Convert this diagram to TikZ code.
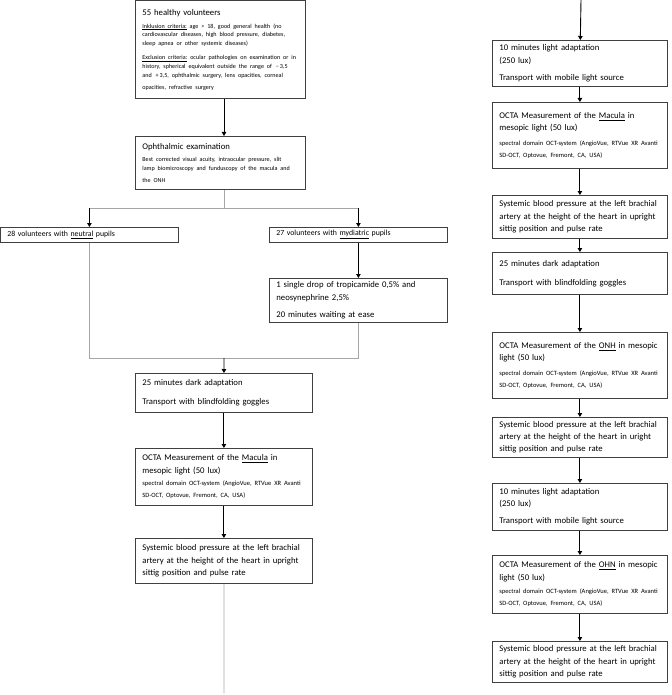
\documentclass[tikz,border=0pt]{standalone}
\usepackage{fontspec}
\setmainfont{Carlito}
\usetikzlibrary{arrows.meta}
\definecolor{boxline}{HTML}{404040}
\definecolor{linkgray}{HTML}{A6A6A6}
\newcommand{\mainsize}{\fontsize{8.7}{12.3}\selectfont}
\newcommand{\pupilsize}{\fontsize{7.8}{10}\selectfont}
\newcommand{\smallsize}{\fontsize{6.5}{9.5}\selectfont}
\newcommand{\tinysize}{\fontsize{6.1}{8.8}\selectfont}
\begin{document}
\begin{tikzpicture}[x=1pt,y=1pt,
	box/.style={draw=boxline, line width=0.8pt, anchor=north west, align=left, inner xsep=7pt, inner ysep=2pt, font=\mainsize},
	link/.style={draw=linkgray, line width=0.8pt},
	arr/.style={draw=black, line width=0.9pt, -{Triangle[length=4pt,width=4.5pt]}}]
	\useasboundingbox (0,0) rectangle (671,-695);
	% left column
	\node[box, text width=156, minimum height=98] (vol) at (135,-0.5) {55 healthy volunteers\\[4pt]
		{\tinysize\underline{Inklusion criteria:} age > 18, good general health (no\\ cardiovascular diseases, high blood pressure, diabetes,\\ sleep apnea or other systemic diseases)\\[5pt]
		\underline{Exclusion criteria:} ocular pathologies on examination or in\\ history, spherical equivalent outside the range of \,−\,3,5\\ and \,+\,3,5, ophthalmic surgery, lens opacities, corneal\\ opacities, refractive surgery}};
	\node[box, text width=156, minimum height=53] (oph) at (135,-136) {Ophthalmic examination\\[3pt]
		{\tinysize Best corrected visual acuity, intraocular pressure, slit\\ lamp biomicroscopy and funduscopy of the macula and\\ the ONH}};
	\node[box, text width=164, minimum height=15, font=\pupilsize] (neu) at (0,-227) {28 volunteers with \underline{neutral} pupils};
	\node[box, text width=164, minimum height=15, font=\pupilsize] (myd) at (269,-227) {27 volunteers with \underline{mydiatric} pupils};
	\node[box, text width=164, minimum height=44] (drop) at (269,-278) {1 single drop of tropicamide 0,5\% and\\ neosynephrine 2,5\%\\[5pt] 20 minutes waiting at ease};
	\node[box, text width=163, minimum height=39] (darkL) at (135,-373) {25 minutes dark adaptation\\[7pt] Transport with blindfolding goggles};
	\node[box, text width=163, minimum height=57] (macL) at (135,-448) {OCTA Measurement of the \underline{Macula} in\\ mesopic light (50 lux)\\[3pt]
		{\smallsize spectral domain OCT-system (AngioVue, RTVue XR Avanti\\ SD-OCT, Optovue, Fremont, CA, USA)}};
	\node[box, text width=163, minimum height=45] (bpL) at (135,-538) {Systemic blood pressure at the left brachial\\ artery at the height of the heart in upright\\ sittig position and pulse rate};
	% right column
	\node[box, text width=161, minimum height=46] (lightA) at (492,-40) {10 minutes light adaptation\\ (250 lux)\\[5pt] Transport with mobile light source};
	\node[box, text width=161, minimum height=66] (macR) at (492,-102) {OCTA Measurement of the \underline{Macula} in\\ mesopic light (50 lux)\\[5pt]
		{\smallsize spectral domain OCT-system (AngioVue, RTVue XR Avanti\\ SD-OCT, Optovue, Fremont, CA, USA)}};
	\node[box, text width=161, minimum height=43] (bpA) at (492,-195) {Systemic blood pressure at the left brachial\\ artery at the height of the heart in upright\\ sittig position and pulse rate};
	\node[box, text width=161, minimum height=42] (darkR) at (492,-252) {25 minutes dark adaptation\\[7pt] Transport with blindfolding goggles};
	\node[box, text width=161, minimum height=66] (onh) at (492,-332) {OCTA Measurement of the \underline{ONH} in mesopic\\ light (50 lux)\\[5pt]
		{\smallsize spectral domain OCT-system (AngioVue, RTVue XR Avanti\\ SD-OCT, Optovue, Fremont, CA, USA)}};
	\node[box, text width=161, minimum height=40] (bpB) at (492,-417) {Systemic blood pressure at the left brachial\\ artery at the height of the heart in uright\\ sittig position and pulse rate};
	\node[box, text width=161, minimum height=47] (lightB) at (492,-483) {10 minutes light adaptation\\ (250 lux)\\[5pt] Transport with mobile light source};
	\node[box, text width=161, minimum height=58] (ohn) at (492,-555) {OCTA Measurement of the \underline{OHN} in mesopic\\ light (50 lux)\\[4pt]
		{\smallsize spectral domain OCT-system (AngioVue, RTVue XR Avanti\\ SD-OCT, Optovue, Fremont, CA, USA)}};
	\node[box, text width=161, minimum height=41] (bpC) at (492,-641) {Systemic blood pressure at the left brachial\\ artery at the height of the heart in upright\\ sittig position and pulse rate};
	% branch and merge points
	\coordinate (split) at (224,-208);
	\coordinate (merge) at (224,-358);
	\coordinate (leftend) at (224,-693);
	\coordinate (righttop) at (581,0);
	% connectors, left column
	\draw[arr] (vol.south -| split) -- (oph.north -| split);
	\draw[link] (oph.south -| split) -- (split);
	\draw[link] (neu.north |- split) -- (myd.north |- split);
	\draw[arr] (neu.north |- split) -- (neu.north);
	\draw[arr] (myd.north |- split) -- (myd.north);
	\draw[arr] (myd) -- (drop);
	\draw[link] (neu.south) -- (neu.south |- merge) -- (drop.south |- merge) -- (drop.south);
	\draw[arr] (merge) -- (darkL);
	\draw[arr] (darkL) -- (macL);
	\draw[arr] (macL) -- (bpL);
	\draw[link] (bpL) -- (leftend);
	% connectors, right column
	\draw[arr] (righttop) -- (lightA);
	\draw[arr] (lightA) -- (macR);
	\draw[arr] (macR) -- (bpA);
	\draw[arr] (bpA) -- (darkR);
	\draw[arr] (darkR) -- (onh);
	\draw[arr] (onh) -- (bpB);
	\draw[arr] (bpB) -- (lightB);
	\draw[arr] (lightB) -- (ohn);
	\draw[arr] (ohn) -- (bpC);
\end{tikzpicture}
\end{document}
